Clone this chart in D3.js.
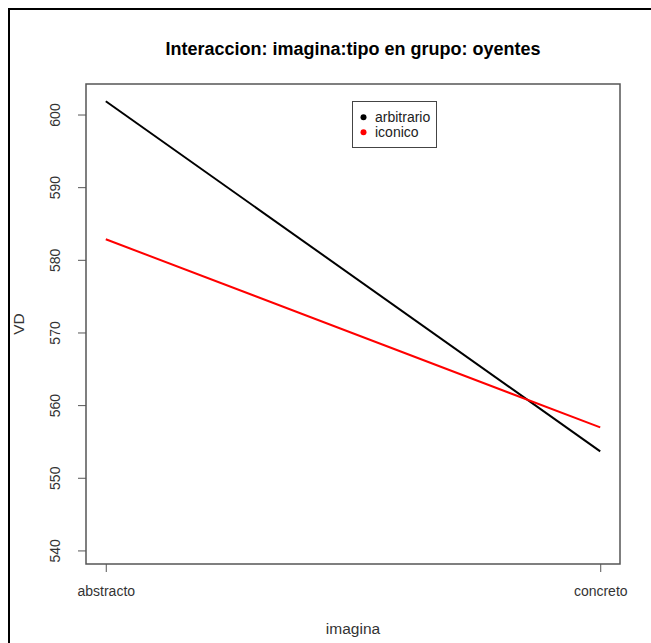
<!DOCTYPE html>
<html>
<head>
<meta charset="utf-8">
<script src="https://cdn.jsdelivr.net/npm/d3@7"></script>
<style>
  body { margin: 0; background: #fff; }
  text { font-family: "Liberation Sans", Arial, sans-serif; }
</style>
</head>
<body>
<svg width="651" height="643"></svg>
<script>
// data
var imagina = ["abstracto", "concreto"];
var tipos = ["arbitrario", "iconico"];
var arbitrario = [601.9, 553.7];
var iconico = [582.9, 557.0];
var yTicks = [540, 550, 560, 570, 580, 590, 600];
var colores = ["#000000", "#ff0000"];

var svg = d3.select("svg");

// outer frame (only top and left edges show)
svg.append("path")
    .attr("d", "M9,643 L9,9 L651,9")
    .attr("fill", "none")
    .attr("stroke", "#000")
    .attr("stroke-width", 2);

var box = { left: 86, top: 84, right: 620, bottom: 564 };

// x: index 1..2 with R style 4% padding
var x = d3.scaleLinear()
    .domain([1 - 0.04, 2 + 0.04])
    .range([box.left, box.right]);

var y = d3.scaleLinear()
    .domain([538.2, 604.27])
    .range([box.bottom, box.top]);

var g = svg.append("g");

// y axis
var yAxis = d3.axisLeft(y)
    .tickValues(yTicks)
    .tickSize(8);
var ya = g.append("g")
    .attr("transform", "translate(" + box.left + ",0)")
    .call(yAxis);
ya.select(".domain").remove();
ya.selectAll(".tick").attr("transform", null);
ya.selectAll(".tick line")
    .attr("stroke", "#555")
    .attr("y1", function (d) { return y(d); })
    .attr("y2", function (d) { return y(d); });
ya.selectAll(".tick text").each(function (d) {
    d3.select(this)
        .attr("x", -31)
        .attr("y", y(d))
        .attr("dy", "0.35em")
        .attr("text-anchor", "middle")
        .attr("font-size", 14)
        .attr("fill", "#333")
        .attr("transform", "rotate(-90,-31," + y(d) + ")");
});

// x axis
var xAxis = d3.axisBottom(x)
    .tickValues([1, 2])
    .tickFormat(function (d) { return imagina[d - 1]; })
    .tickSize(8)
    .tickPadding(14);
var xa = g.append("g")
    .attr("transform", "translate(0," + box.bottom + ")")
    .call(xAxis);
xa.select(".domain").remove();
xa.selectAll("line").attr("stroke", "#555");
xa.selectAll("text")
    .attr("font-size", 14)
    .attr("fill", "#333");

// plot box
g.append("rect")
    .attr("x", box.left)
    .attr("y", box.top)
    .attr("width", box.right - box.left)
    .attr("height", box.bottom - box.top)
    .attr("fill", "none")
    .attr("stroke", "#555")
    .attr("stroke-width", 1.5);

// lines
var series = [arbitrario, iconico];
var line = d3.line()
    .x(function (d, i) { return x(i + 1); })
    .y(function (d) { return y(d); });

series.forEach(function (s, k) {
    g.append("path")
        .datum(s)
        .attr("d", line)
        .attr("fill", "none")
        .attr("stroke", colores[k])
        .attr("stroke-width", 2);
});

// title
svg.append("text")
    .attr("x", (box.left + box.right) / 2)
    .attr("y", 55)
    .attr("text-anchor", "middle")
    .attr("font-size", 18)
    .attr("font-weight", "bold")
    .attr("fill", "#000")
    .text("Interaccion: imagina:tipo en grupo: oyentes");

// axis titles
svg.append("text")
    .attr("x", (box.left + box.right) / 2)
    .attr("y", 634)
    .attr("text-anchor", "middle")
    .attr("font-size", 15.5)
    .attr("fill", "#333")
    .text("imagina");

svg.append("text")
    .attr("transform", "translate(24," + (box.top + box.bottom) / 2 + ") rotate(-90)")
    .attr("text-anchor", "middle")
    .attr("font-size", 15.5)
    .attr("fill", "#333")
    .text("VD");

// legend
var leg = svg.append("g");
leg.append("rect")
    .attr("x", 352.5)
    .attr("y", 101.5)
    .attr("width", 84)
    .attr("height", 46)
    .attr("fill", "#fff")
    .attr("stroke", "#444")
    .attr("stroke-width", 1);
tipos.forEach(function (t, k) {
    var yy = 117.3 + k * 15;
    leg.append("circle")
        .attr("cx", 363.5)
        .attr("cy", yy)
        .attr("r", 3)
        .attr("fill", colores[k]);
    leg.append("text")
        .attr("x", 375)
        .attr("y", yy)
        .attr("dy", "0.35em")
        .attr("font-size", 14)
        .attr("fill", "#222")
        .text(t);
});
</script>
</body>
</html>
